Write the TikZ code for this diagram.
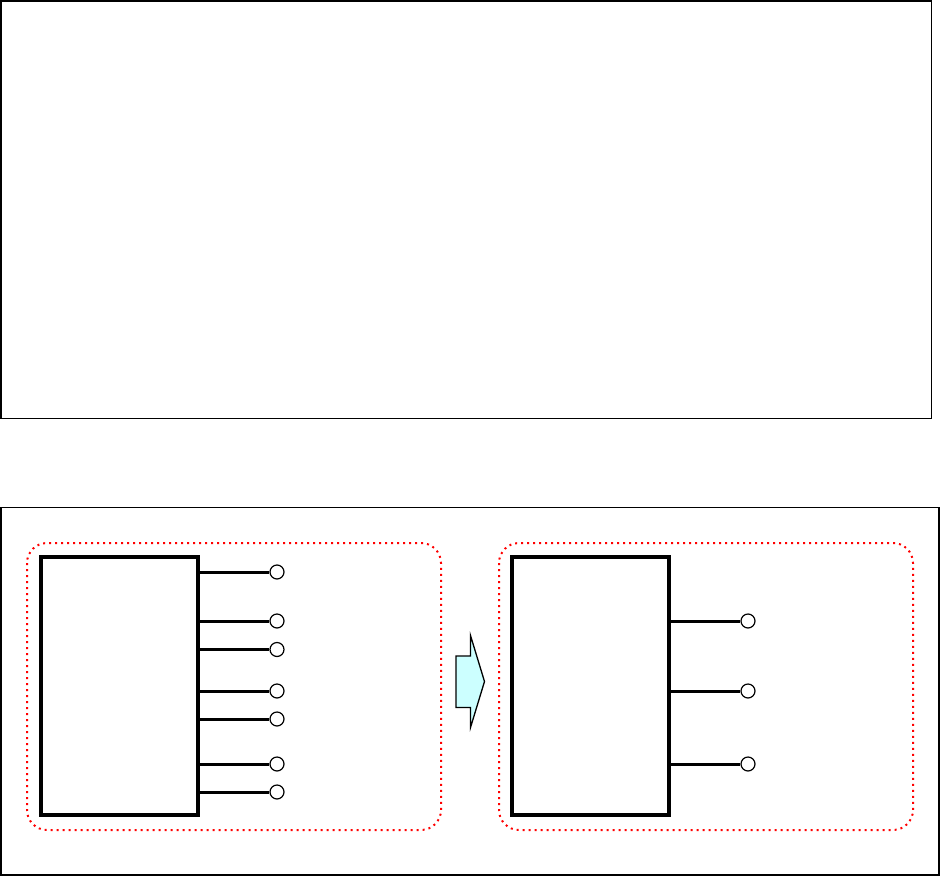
\documentclass[tikz,border=0pt]{standalone}
\usetikzlibrary{positioning}
\definecolor{lightcyan}{HTML}{CCFFFF}
\tikzset{
  frame/.style={draw=black, line width=1.2pt},
  group/.style={draw=red, line width=2pt, dash pattern=on 2pt off 4pt, rounded corners=20pt},
  chip/.style={draw=black, line width=3.2pt, fill=white, rectangle, inner sep=0pt,
               minimum width=157pt, minimum height=258pt},
  pad/.style={draw=black, line width=1.2pt, fill=white, circle, inner sep=0pt, minimum size=14pt},
  pin/.style={draw=black, line width=3pt},
  bigarrow/.style={draw=black, line width=1.3pt, fill=lightcyan, line join=miter}
}
\begin{document}
\begin{tikzpicture}[x=1pt, y=-1pt]
\useasboundingbox (0,0) rectangle (940,876);
% top empty frame
\draw[frame] (1,1) rectangle (931.5,418.5);
% bottom frame
\draw[frame] (1,507.5) rectangle (939,875);
% dotted groups
\draw[group] (27,543) rectangle (441,830);
\draw[group] (499,543) rectangle (913,830);
% left chip
\node[chip] (chipL) at (119.5,686) {};
\foreach \i/\y in {1/572,2/621,3/649.5,4/691,5/719,6/764,7/792}{
  \node[pad] (pL\i) at (277,\y) {};
  \draw[pin] (chipL.east |- pL\i) -- (pL\i.west);
}
% right chip
\node[chip] (chipR) at (590.5,686) {};
\foreach \i/\y in {1/621,2/691,3/764}{
  \node[pad] (pR\i) at (748,\y) {};
  \draw[pin] (chipR.east |- pR\i) -- (pR\i.west);
}
% block arrow
\draw[bigarrow] (456,656) -- (470.5,656) -- (470.5,635.5) -- (484.5,681.5)
  -- (470.5,727.5) -- (470.5,707.5) -- (456,707.5) -- cycle;
\end{tikzpicture}
\end{document}
